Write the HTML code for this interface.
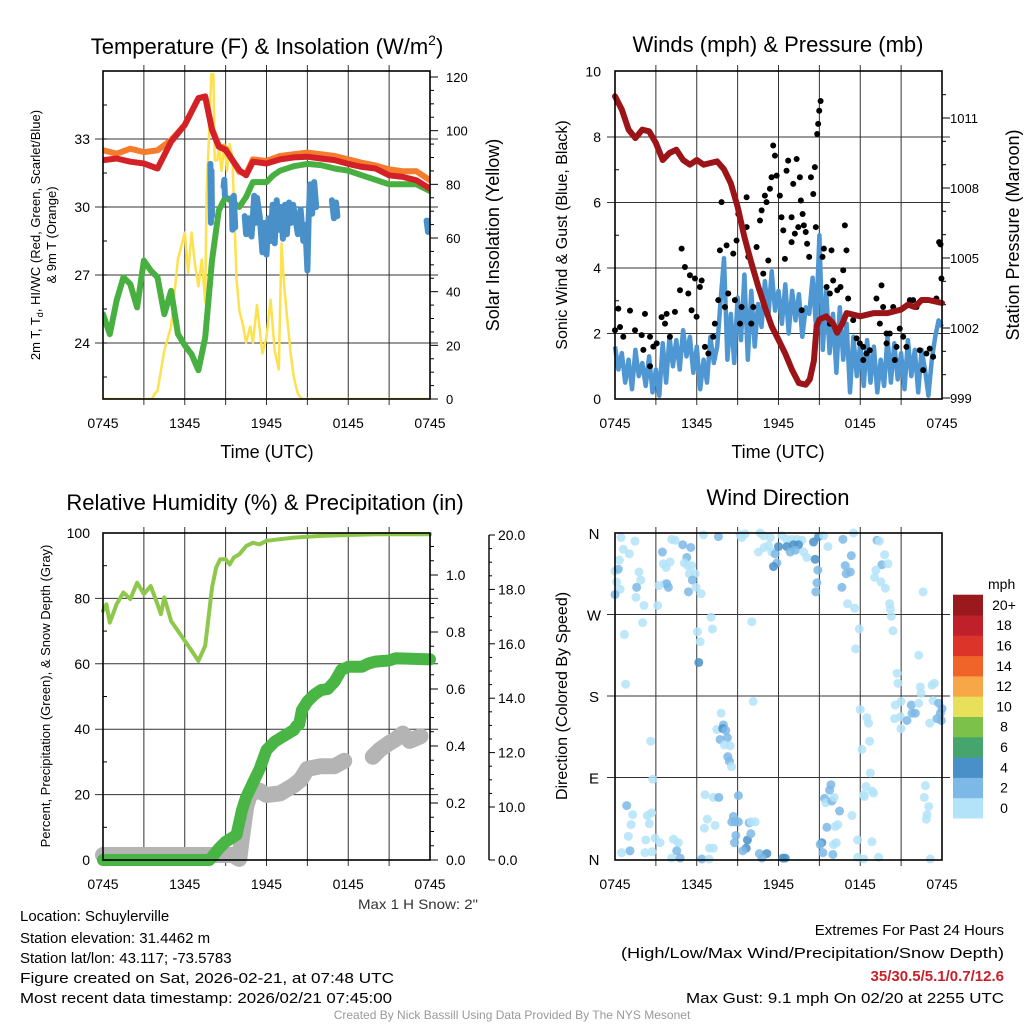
<!DOCTYPE html>
<html><head><meta charset="utf-8"><style>
html,body{margin:0;padding:0;background:#fff;}
svg{display:block;font-family:"Liberation Sans",Arial,sans-serif;}
</style></head><body>
<svg id="chart" xmlns="http://www.w3.org/2000/svg" width="1024" height="1024" viewBox="0 0 1024 1024">
<rect x="0" y="0" width="1024" height="1024" fill="#fff"/>
<g id="p1"></g>
<g id="p2"></g>
<g id="p3"></g>
<g id="p4"></g>
<g id="txt">
<text x="267" y="54" font-size="22" text-anchor="middle">Temperature (F) &amp; Insolation (W/m<tspan font-size="14" dy="-9">2</tspan><tspan dy="9">)</tspan></text>
<text x="778" y="52" font-size="22" text-anchor="middle">Winds (mph) &amp; Pressure (mb)</text>
<text x="265" y="510" font-size="22" text-anchor="middle">Relative Humidity (%) &amp; Precipitation (in)</text>
<text x="778" y="505" font-size="22" text-anchor="middle">Wind Direction</text>
<text x="267" y="458" font-size="18" text-anchor="middle">Time (UTC)</text>
<text x="778" y="458" font-size="18" text-anchor="middle">Time (UTC)</text>
<text font-size="13" text-anchor="middle" transform="translate(40,235) rotate(-90)">2m T, T<tspan font-size="9" dy="3">d</tspan><tspan dy="-3">, HI/WC (Red, Green, Scarlet/Blue)</tspan></text>
<text font-size="13" text-anchor="middle" transform="translate(56,235) rotate(-90)">&amp; 9m T (Orange)</text>
<text font-size="18" text-anchor="middle" transform="translate(499,235) rotate(-90)">Solar Insolation (Yellow)</text>
<text font-size="16" text-anchor="middle" transform="translate(567,235) rotate(-90)">Sonic Wind &amp; Gust (Blue, Black)</text>
<text font-size="18" text-anchor="middle" transform="translate(1019,235) rotate(-90)">Station Pressure (Maroon)</text>
<text font-size="13" text-anchor="middle" transform="translate(50,696) rotate(-90)">Percent, Precipitation (Green), &amp; Snow Depth (Gray)</text>
<text font-size="16" text-anchor="middle" transform="translate(567,696) rotate(-90)">Direction (Colored By Speed)</text>
<text x="358" y="909" font-size="14" fill="#333" textLength="120" lengthAdjust="spacingAndGlyphs">Max 1 H Snow: 2"</text>
<text x="20" y="921" font-size="15">Location: Schuylerville</text>
<text x="20" y="943" font-size="15">Station elevation: 31.4462 m</text>
<text x="20" y="963" font-size="15">Station lat/lon: 43.117; -73.5783</text>
<text x="20" y="983" font-size="15" textLength="374" lengthAdjust="spacingAndGlyphs">Figure created on Sat, 2026-02-21, at 07:48 UTC</text>
<text x="20" y="1003" font-size="15" textLength="372" lengthAdjust="spacingAndGlyphs">Most recent data timestamp: 2026/02/21 07:45:00</text>
<text x="1004" y="935" font-size="15" text-anchor="end">Extremes For Past 24 Hours</text>
<text x="1004" y="958" font-size="15" text-anchor="end" textLength="383" lengthAdjust="spacingAndGlyphs">(High/Low/Max Wind/Precipitation/Snow Depth)</text>
<text x="1004" y="981" font-size="15" font-weight="bold" fill="#c8202a" text-anchor="end">35/30.5/5.1/0.7/12.6</text>
<text x="1004" y="1003" font-size="15" text-anchor="end" textLength="318" lengthAdjust="spacingAndGlyphs">Max Gust: 9.1 mph On 02/20 at 2255 UTC</text>
<text x="512" y="1019" font-size="12" fill="#999" text-anchor="middle">Created By Nick Bassill Using Data Provided By The NYS Mesonet</text>
</g>
</svg>
<script>
// ---------- DATA ----------
const xTickLabels = ["0745","1345","1945","0145","0745"];
const tempTicks = [24,27,30,33];
const insolTicks = [0,20,40,60,80,100,120];
const windTicks = [0,2,4,6,8,10];
const pressTicks = [999,1002,1005,1008,1011];
const rhTicks = [0,20,40,60,80,100];
const precipTicks = [0.0,0.2,0.4,0.6,0.8,1.0];
const snowTicks = [10,12,14,16,18,20];
const dirLabels = ["N","E","S","W","N"];
const dirTicks = [0,90,180,270,360];

const redHours = [0,1,2,3,4,5,6,7,7.5,8,8.5,9,10,10.5,11,12,13,14,15,16,17,18,19,20,21,22,23,24];
const redTemp = [32.07,32.14,32.0,31.92,31.7,32.88,33.62,34.8,34.88,33.4,32.66,32.51,31.63,31.4,32.0,31.92,32.1,32.19,32.22,32.14,32.07,31.9,31.77,31.7,31.4,31.33,31.18,30.81];
const orangeHours = [0,1,2,3,4,5,6,7,7.5,8,8.5,9,10,10.5,11,12,13,14,15,16,17,18,19,20,21,22,23,24];
const orangeTemp = [32.5,32.35,32.57,32.42,32.5,32.95,33.62,34.8,34.85,33.45,32.7,32.58,31.55,31.45,32.1,32.03,32.25,32.33,32.4,32.33,32.25,32.1,31.95,31.83,31.66,31.58,31.58,31.18];
const greenHours = [0,0.5,1,1.5,2,2.5,3,3.5,4,4.5,5,5.5,6,6.5,7,7.5,8,8.5,9,10,10.5,11,12,12.5,13,14,15,16,17,18,19,20,21,22,23,24];
const greenTemp = [25.27,24.39,25.87,26.9,26.6,25.57,27.64,27.2,26.9,25.27,26.3,24.4,23.9,23.5,22.8,24.24,27.64,29.85,30.44,30.0,30.44,31.1,31.1,31.4,31.6,31.8,31.9,31.85,31.7,31.6,31.4,31.2,31.0,31.0,31.0,30.7];
const blueHours = [7.88,7.92,7.96,8.0,null,8.85,8.9,8.95,null,9.45,9.5,9.6,9.7,null,10.4,10.5,10.7,10.9,11.1,11.2,11.3,11.5,11.7,11.8,12.0,12.15,12.3,12.45,12.6,12.75,12.9,13.05,13.2,13.35,13.5,13.65,13.8,13.95,14.1,14.3,14.5,14.7,14.85,15.0,15.1,15.2,15.35,15.5,15.65,null,16.8,16.95,17.1,17.2,null,23.75,23.85,24.0];
const blueTemp = [31.9,29.3,31.6,29.6,null,30.9,31.2,30.5,null,30.4,29.0,30.5,29.1,null,29.6,28.8,29.5,28.7,30.5,29.3,30.4,29.6,28.0,29.3,27.9,29.5,28.5,30.1,28.4,30.3,29.0,30.0,28.6,30.1,28.8,30.2,29.3,30.1,29.6,28.8,29.9,28.5,29.2,27.2,29.6,31.0,29.7,31.1,30.0,null,30.3,29.5,30.2,29.6,null,29.4,28.9,29.4];
const insolHours = [0,3.6,3.8,4,4.5,5,5.5,6,6.25,6.5,6.75,7,7.25,7.5,7.6,7.8,7.95,8.1,8.2,8.4,8.5,8.7,8.9,9.1,9.3,9.5,9.8,10,10.3,10.5,10.8,11,11.3,11.7,12,12.3,12.6,12.9,13.1,13.3,13.5,13.8,14,14.3,14.6,24];
const insolVal = [0,0,2,3,18,27,52,62,47,62,50,42,52,36,77,101,121,121,89,89,95,85,95,85,95,90,45,33,27,21,27,21,35,17,23,37,18,11,58,42,31,16,8,2,0,0];

const pressHours = [0,0.5,1,1.5,2,2.5,3,3.5,4,4.5,5,5.5,6,6.5,7,7.5,8,8.5,9,9.5,10,10.5,11,11.5,12,12.5,13,13.5,14,14.3,14.6,14.8,15,15.5,16,16.3,16.7,17,18,19,20,21,21.5,22,22.5,23,24];
const pressVal = [1011.93,1011.36,1010.5,1010.14,1010.5,1010.43,1009.93,1009.2,1009.5,1009.64,1009.2,1009.0,1009.2,1009.0,1009.07,1009.14,1008.8,1008.2,1007.2,1005.9,1004.8,1003.8,1002.9,1002.07,1001.5,1000.9,1000.2,999.64,999.57,999.8,1000.6,1002.07,1002.36,1002.5,1002.2,1001.8,1002.2,1002.64,1002.5,1002.64,1002.64,1002.79,1003.0,1002.9,1003.2,1003.2,1003.07];
const sonicWind = [1.6,0.9,1.4,0.5,1.2,0.3,1.5,0.7,1.1,
0.4,1.3,0.2,0.9,0.1,1.7,0.5,1.9,
1.0,1.8,0.9,2.1,1.3,1.9,0.8,1.6,
0.3,1.2,0.5,1.9,1.1,1.6,3.0,4.3,
1.2,2.6,1.1,3.1,1.8,3.8,1.2,3.3,
1.6,2.9,2.2,3.6,2.5,3.9,2.7,3.3,
2.3,3.5,2.0,3.3,2.4,3.2,1.9,2.8,
2.6,3.7,2.2,5.0,1.5,3.3,1.4,2.6,
0.8,2.8,1.2,2.3,0.2,1.9,0.7,1.7,
0.4,1.8,0.5,1.6,0.2,1.2,0.4,1.9,
0.5,1.7,0.6,1.4,0.3,1.8,0.7,1.5,
0.2,1.5,0.9,0.1,1.2,1.9,2.4,2.2];
const sonicStepHours = 0.25;
const gustHours = [0,0.24,0.37,0.61,1.1,1.47,1.96,2.2,2.08,2.57,2.81,3.06,3.42,3.79,4.03,4.4,4.77,4.89,5.13,5.5,5.87,6.23,6.36,5.62,5.99,6.6,6.85,7.21,7.58,7.7,7.82,8.19,8.31,8.68,8.8,8.92,9.05,9.29,9.66,9.66,9.78,10.15,10.39,10.64,10.76,10.88,11.0,11.12,11.25,11.37,11.49,11.61,11.74,11.86,12.1,12.22,12.35,12.47,12.59,12.71,12.96,12.96,13.08,13.2,13.33,13.45,13.57,13.64,13.77,13.86,14.0,14.1,14.25,14.38,14.55,14.67,14.74,14.84,14.91,14.99,15.09,15.23,15.33,15.53,15.77,15.89,16.01,16.31,16.55,16.75,16.87,16.99,17.11,17.48,17.73,17.97,18.22,18.46,18.7,18.22,19.19,19.44,19.56,19.68,19.93,20.17,20.42,20.54,20.66,20.9,21.15,21.39,21.64,21.88,22.13,22.37,22.62,22.86,23.1,23.35,23.59,23.79,23.89,23.96,2.57,3.67,5.38,7.33,8.07,9.17,10.0,13.7,15.77,19.93];
const gustVal = [2.1,2.76,2.2,1.9,2.7,2.1,1.95,2.6,1.5,1.0,1.6,1.7,2.5,2.6,1.9,2.66,3.32,4.59,4.03,3.78,3.68,3.42,3.62,2.71,2.51,1.59,1.39,1.9,3.02,4.54,6.01,4.69,3.22,4.44,3.02,4.84,5.65,2.81,6.16,5.25,4.34,2.81,4.64,5.45,5.76,3.83,6.21,6.01,4.23,6.42,6.77,7.74,7.43,6.82,6.21,5.55,5.15,4.28,6.97,7.28,5.55,4.79,6.57,5.05,7.33,5.25,6.77,6.06,5.65,5.3,5.1,4.74,4.34,6.77,6.26,7.08,5.25,8.09,8.4,8.8,9.1,4.34,4.59,3.42,3.22,4.54,3.62,3.32,3.42,3.93,5.3,4.54,3.07,2.41,1.85,1.7,1.59,1.39,1.49,1.19,3.07,2.3,3.47,2.81,2.0,2.0,2.81,1.19,1.59,2.15,1.9,1.59,3.02,3.02,2.81,1.49,0.88,1.39,1.54,1.29,3.07,4.79,4.72,3.68,1.9,2.3,3.22,2.3,2.81,2.3,2.3,2.71,2.3,1.7];

const rhHours = [0,0.25,0.5,1,1.5,2,2.5,3,3.5,4,4.25,4.5,5,5.5,6,6.5,7,7.5,7.8,8,8.3,8.6,9,9.3,9.6,10,10.5,11,11.5,12,13,14,16,18,20,24];
const rhVal = [76.2,78.2,72.6,78.2,81.8,79.8,84.8,81.3,83.8,78.2,75.2,80.3,73.1,70.1,67.0,64.0,60.9,65.5,76.2,83.3,89.4,92.0,92.0,90.4,92.5,93.5,96.0,97.0,96.5,97.6,98.1,98.6,99.1,99.4,99.6,99.6];
const precipHours = [0,7.8,8,8.5,9,9.8,10.2,10.5,11,11.5,12,12.6,13,14,14.2,14.4,14.6,15,15.5,16,16.5,17,17.5,18,19,19.5,20,21,21.5,24];
const precipVal = [0,0,0.01,0.04,0.064,0.088,0.175,0.22,0.27,0.32,0.386,0.415,0.427,0.456,0.47,0.476,0.526,0.556,0.58,0.596,0.6,0.626,0.667,0.678,0.678,0.69,0.696,0.70,0.708,0.704];
const snowHours = [0,9.6,9.8,10.0,10.2,10.5,10.8,11.5,12,13,14,14.5,15,16,17,17.7,null,19.8,20.3,21,21.5,22,22.5,23.3];
const snowVal = [0,0,-0.5,-0.8,3.75,10.0,10.5,10.6,10.44,10.5,10.8,11.0,11.4,11.5,11.5,11.7,null,11.85,12.1,12.35,12.5,12.7,12.43,12.6];

const dirHours = [0.44,0.61,1.05,1.47,0.32,0.0,0.24,0.12,0.37,0.0,1.76,1.89,1.59,1.54,2.13,2.03,0.69,0.78,3.48,3.55,3.75,4.04,3.67,3.8,3.92,3.23,3.13,4.16,4.41,4.97,5.56,5.27,5.09,5.34,5.63,5.46,5.88,5.68,5.39,5.95,6.32,6.49,7.59,6.05,6.25,6.15,7.05,7.15,
9.31,9.55,9.18,10.04,10.65,10.9,11.39,11.27,10.95,10.53,11.51,11.76,12.0,11.88,11.63,12.25,12.61,12.98,13.35,13.72,12.61,13.1,13.47,12.86,13.23,13.84,14.08,14.69,14.57,14.94,15.31,15.63,14.89,14.82,14.74,
16.73,16.9,16.97,17.27,17.34,17.51,16.65,17.07,17.59,19.23,19.4,19.59,19.79,20.03,19.15,19.05,19.52,19.84,20.16,20.21,20.28,20.4,22.61,17.93,17.66,22.29,
20.7,20.77,20.57,20.99,20.52,20.94,20.99,21.43,21.8,22.04,21.75,22.41,22.46,23.27,23.44,23.34,23.76,24.0,23.88,23.63,23.95,23.1,22.29,18.0,18.49,18.61,18.69,18.12,18.74,10.14,
7.79,7.96,7.47,7.91,8.13,7.71,8.25,8.03,8.45,8.28,8.4,8.55,2.62,2.77,
0.86,1.3,1.18,0.98,1.1,0.49,2.25,2.38,2.52,2.69,2.2,2.94,3.31,2.72,4.29,4.65,4.53,4.16,4.78,6.37,6.91,6.61,7.22,7.62,6.78,6.56,7.35,6.93,7.22,9.06,8.69,8.82,8.57,9.06,8.87,8.77,9.72,9.63,9.38,9.85,9.99,10.29,9.97,10.6,11.14,10.78,12.32,12.49,
15.85,15.75,15.38,15.48,15.92,16.09,16.48,15.55,16.16,16.36,16.24,16.04,15.18,15.06,15.26,15.99,17.81,17.39,18.25,18.42,18.86,18.98,18.3,18.86,17.81,18.25,19.35,22.78,22.7,23.02,22.9,22.85,23.14];
const dirDeg = [355,342,337,351,330,318,320,306,298,292,317,308,300,289,280,261,248,193,339,326,322,328,304,304,300,302,280,353,352,347,344,333,327,324,324,315,315,308,295,300,293,358,356,251,240,217,267,254,
355,359,358,262,360,357,355,346,344,339,339,337,345,327,323,357,353,353,353,352,345,347,347,339,341,339,333,331,350,356,357,345,319,305,295,
353,324,315,317,335,360,300,282,277,352,351,325,336,326,319,311,306,299,282,276,268,252,295,254,232,225,
205,194,170,174,155,157,144,153,161,161,170,190,183,192,194,175,172,166,161,155,153,150,172,165,156,150,130,121,95,174,
161,148,143,144,142,132,134,126,125,113,108,102,130,88,
59,49,38,25,9,7,21,48,39,51,7,23,18,8,22,18,9,1,1,0,0,71,68,68,44,34,37,12,12,70,47,41,41,41,26,18,21,12,9,40,41,41,28,6,6,1,1,1,
82,76,67,62,64,68,53,35,36,38,18,16,18,16,7,5,21,48,71,80,75,73,69,19,2,0,2,81,68,58,49,44,0];
const dirSpeed = [1,1,1,1,1,1,3,1,1,3,1,1,3,1,1,1,1,1,3,1,1,1,1,3,3,1,1,1,1,3,3,3,1,1,1,1,1,3,3,1,1,1,3,1,1,4.5,1,1,
1,1,1,1,1,1,1,1,1,1,1,3,4.5,3,4.5,1,1,1,1,1,4.5,4.5,4.5,3,3,1,1,4.5,4.5,4.5,1,1,3,3,3,
3,3,3,3,3,1,3,1,1,3,1,3,1,1,1,1,1,1,1,1,1,1,1,1,1,1,
1,1,1,1,1,1,1,3,3,3,3,1,1,1,1,1,3,3,3,3,3,1,1,1,1,1,1,1,1,1,
1,3,1,4.5,3,3,3,1,1,3,3,1,1,1,
3,1,1,1,3,1,1,1,1,1,1,1,1,1,1,1,3,1,3,3,1,1,1,3,1,1,1,1,1,3,3,3,3,3,3,3,4.5,4.5,3,3,1,1,3,3,4.5,3,4.5,4.5,
3,3,3,1,3,1,3,3,1,1,1,1,4.5,3,3,3,1,1,1,1,1,1,1,1,1,1,1,1,1,1,1,1,1];

const legendLabels = ["0","2","4","6","8","10","12","14","16","18","20+"];
const legendColors = ["#b3e3f8","#7db9e6","#4a90c8","#46a56c","#7cc24a","#e8e05a","#f8a748","#f0642a","#dd3429","#c0202a","#99191c"];

// ---------- SCALES ----------
const NS="http://www.w3.org/2000/svg";
function mk(parent,tag,attrs){const e=document.createElementNS(NS,tag);for(const k in attrs)e.setAttribute(k,attrs[k]);parent.appendChild(e);return e;}
const L1=103,R1=430,L2=615,R2=942,T1=71,B1=399,T3=533,B3=860;
const xL=h=>L1+h*(R1-L1)/24;
const xR=h=>L2+h*(R2-L2)/24;
const yTemp=t=>207-(t-30)*68/3;
const yInsol=v=>399-v*322/120;
const yWind=v=>399-v*32.75;
const yPress=p=>398-(p-999)*70/3;
const yRH=v=>860-v*3.27;
const yPrecip=v=>860-v*285;
const ySnow=v=>v>=10?807-(v-10)*27.2:855-v*4.8;
const yDir=d=>859-d*326/360;

function pathFrom(xs,ys,fx,fy){let d="",pen=false;for(let i=0;i<xs.length;i++){if(xs[i]===null||ys[i]===null){pen=false;continue;}d+=(pen?"L":"M")+fx(xs[i]).toFixed(1)+","+fy(ys[i]).toFixed(1);pen=true;}return d;}

function grid(g,L,R,T,B,ys){
  for(let i=1;i<8;i++){const x=L+i*(R-L)/8;const ln=mk(g,"line",{x1:x,x2:x,y1:T-6,y2:B+6,stroke:"#333","stroke-width":1});

}
  ys.forEach(y=>{const ln=mk(g,"line",{x1:L-8,x2:R+8,y1:y,y2:y,stroke:"#333","stroke-width":1});

});
}
function xLabels(g,L,R,y){
  xTickLabels.forEach((t,i)=>{const x=L+i*(R-L)/4;const tx=mk(g,"text",{x:x,y:y,"font-size":14,"text-anchor":"middle"});tx.textContent=t;

});
}
function frame(g,L,R,T,B){const r=mk(g,"rect",{x:L,y:T,width:R-L,height:B-T,fill:"none",stroke:"#000","stroke-width":1.6});

}
function label(g,x,y,txt,anchor,size,name){const t=mk(g,"text",{x:x,y:y,"font-size":size||14,"text-anchor":anchor||"start"});t.textContent=txt;

return t;}
function tick(g,x1,y1,x2,y2){mk(g,"line",{x1:x1,y1:y1,x2:x2,y2:y2,stroke:"#000","stroke-width":1});}

// ---------- PANEL 1 ----------
(function(){
const g=document.getElementById("p1");
grid(g,L1,R1,T1,B1,tempTicks.map(yTemp));
for(let t=22.5;t<=36;t+=1.5){const y=yTemp(t);if(y>T1&&y<B1)tick(g,L1,y,L1+4,y);}
tempTicks.forEach(t=>label(g,L1-13,yTemp(t)+5,String(t),"end",14,'temp-tick-label'));
for(let v=0;v<=120;v+=5){const y=yInsol(v);tick(g,R1,y,R1+(v%20===0?8:4),y);}
insolTicks.forEach(v=>label(g,R1+16,yInsol(v)+5,String(v),"start",13,'insolation-tick-label'));
const clip=mk(g,"clipPath",{id:"c1"});mk(clip,"rect",{x:L1,y:T1,width:R1-L1,height:B1-T1});
const s=[
 ["insolation-line",insolHours,insolVal,yInsol,"#fde14f",2.5],
 ["green-temp-line",greenHours,greenTemp,yTemp,"#48b041",6],
 ["orange-9m-temp-line",orangeHours,orangeTemp,yTemp,"#f47c2c",6],
 ["red-2m-temp-line",redHours,redTemp,yTemp,"#d42127",6],
 ["blue-windchill-line",blueHours,blueTemp,yTemp,"#4a90c8",6]];
s.forEach(a=>{const p=mk(g,"path",{d:pathFrom(a[1],a[2],xL,a[3]),fill:"none",stroke:a[4],"stroke-width":a[5],"stroke-linejoin":"round","stroke-linecap":"round","clip-path":"url(#c1)"});

});
frame(g,L1,R1,T1,B1);
xLabels(g,L1,R1,428);
})();

// ---------- PANEL 2 ----------
(function(){
const g=document.getElementById("p2");
grid(g,L2,R2,T1,B1,[2,4,6,8].map(yWind));
for(let v=1;v<10;v+=2){const y=yWind(v);tick(g,L2,y,L2+4,y);}
windTicks.forEach(v=>label(g,L2-14,yWind(v)+5,String(v),"end",14,'wind-tick-label'));
for(let p=999;p<=1012;p++){const y=yPress(p);if(y>=T1)tick(g,R2,y,R2+((p-999)%3===0?8:4),y);}
pressTicks.forEach(p=>label(g,R2+8,yPress(p)+5,String(p),"start",13,'pressure-tick-label'));
const clip=mk(g,"clipPath",{id:"c2"});mk(clip,"rect",{x:L2-4,y:T1,width:R2-L2+8,height:B1-T1+2});
const sh=sonicWind.map((v,i)=>i*sonicStepHours);
const sw=mk(g,"path",{d:pathFrom(sh,sonicWind,xR,yWind),fill:"none",stroke:"#4f97d2","stroke-width":4.5,"stroke-linejoin":"round","clip-path":"url(#c2)"});


const gg=mk(g,"g",{});


gustHours.forEach((h,i)=>{const c=mk(gg,"circle",{cx:xR(h),cy:yWind(gustVal[i]),r:3,fill:"#000"});

});
const pr=mk(g,"path",{d:pathFrom(pressHours,pressVal,xR,yPress),fill:"none",stroke:"#9b1518","stroke-width":6,"stroke-linejoin":"round","stroke-linecap":"round","clip-path":"url(#c2)"});


frame(g,L2,R2,T1,B1);
xLabels(g,L2,R2,428);
})();

// ---------- PANEL 3 ----------
(function(){
const g=document.getElementById("p3");
grid(g,L1,R1,T3,B3,[20,40,60,80].map(yRH));
for(let v=10;v<100;v+=20){const y=yRH(v);tick(g,L1,y,L1+4,y);}
rhTicks.forEach(v=>label(g,L1-13,yRH(v)+5,String(v),"end",14,'rh-tick-label'));
for(let v=0;v<=1.14;v+=0.05){const y=yPrecip(v);tick(g,R1,y,R1+(Math.round(v*100)%20===0?8:4),y);}
precipTicks.forEach(v=>label(g,R1+16,yPrecip(v)+5,v.toFixed(1),"start",14,'precip-tick-label'));
const SX=489;
const ax=mk(g,"line",{x1:SX,x2:SX,y1:535,y2:860,stroke:"#000","stroke-width":1.4});


for(let v=10;v<=20;v+=0.5){const y=ySnow(v);tick(g,SX,y,SX+(v%2===0?6:3),y);}
tick(g,SX,860,SX+6,860);
snowTicks.forEach(v=>label(g,SX+9,ySnow(v)+5,v.toFixed(1),"start",14,'snow-tick-label'));
label(g,SX+9,865,"0.0","start",14,'snow-tick-label');
const clip=mk(g,"clipPath",{id:"c3"});mk(clip,"rect",{x:L1-10,y:T3-4,width:R1-L1+20,height:B3-T3+14});
const sn=mk(g,"path",{d:pathFrom(snowHours,snowVal,xL,ySnow),fill:"none",stroke:"#b4b4b4","stroke-width":16,"stroke-linejoin":"round","stroke-linecap":"round","clip-path":"url(#c3)"});


const pc=mk(g,"path",{d:pathFrom(precipHours,precipVal,xL,yPrecip),fill:"none",stroke:"#48b544","stroke-width":12,"stroke-linejoin":"round","stroke-linecap":"round","clip-path":"url(#c3)"});


const rh=mk(g,"path",{d:pathFrom(rhHours,rhVal,xL,yRH),fill:"none",stroke:"#8ec84b","stroke-width":4,"stroke-linejoin":"round","stroke-linecap":"round"});


frame(g,L1,R1,T3,B3);
xLabels(g,L1,R1,889);
})();

// ---------- PANEL 4 ----------
(function(){
const g=document.getElementById("p4");
grid(g,L2,R2,T3,B3,[90,180,270].map(yDir));
dirTicks.forEach((d,i)=>label(g,L2-21,yDir(d)+6,dirLabels[i],"middle",15,'direction-tick-label'));
function col(s){return legendColors[Math.min(10,Math.floor(s/2))];}
const pts=mk(g,"g",{});


dirHours.forEach((h,i)=>{const c=mk(pts,"circle",{cx:xR(h),cy:yDir(dirDeg[i]),r:4.5,fill:col(dirSpeed[i]),"fill-opacity":0.85});

});
frame(g,L2,R2,T3,B3);
xLabels(g,L2,R2,889);
const lg=mk(g,"g",{});


label(lg,988,589,"mph","start",14,'legend-title');
const bh=20.3;
legendColors.forEach((c,i)=>{const y=818-(i+1)*bh;const r=mk(lg,"rect",{x:953,y:y,width:30,height:bh+0.5,fill:c});


label(lg,1004,y+bh/2+5,legendLabels[i],"middle",14,'legend-label');});
})();
</script>
</body></html>
